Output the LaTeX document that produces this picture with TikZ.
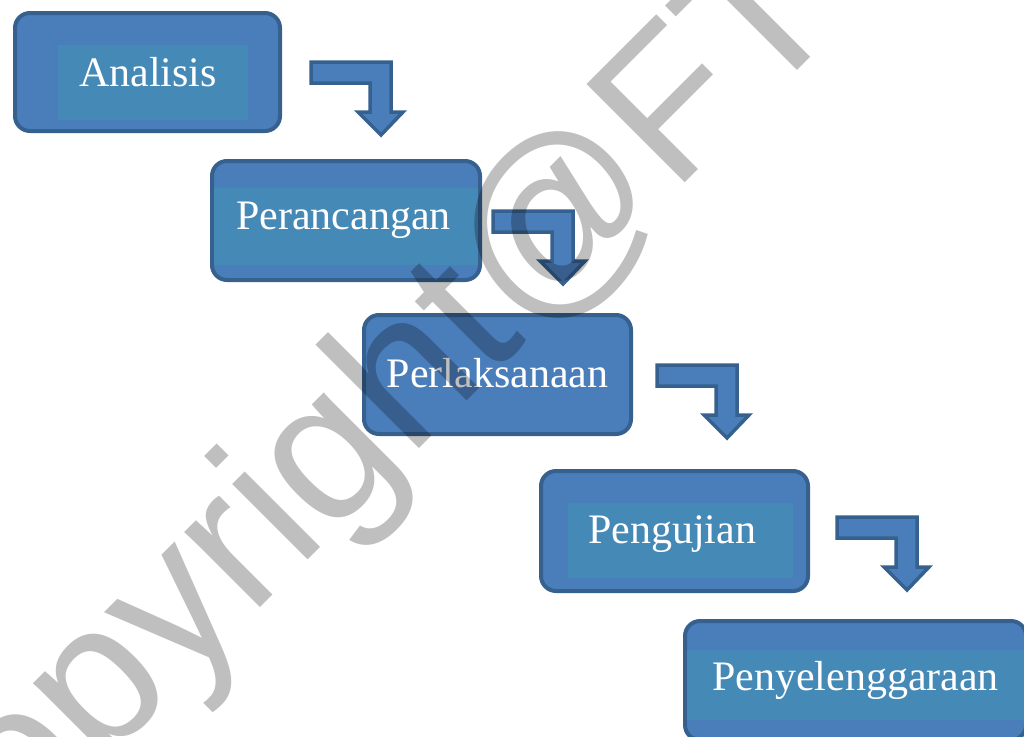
\documentclass[tikz,border=0pt]{standalone}
\usepackage{fontspec}
\setmainfont{Liberation Serif}
\newfontfamily\wmfont{Liberation Sans}
\usetikzlibrary{calc}
\definecolor{boxfill}{HTML}{4A7EBB}
\definecolor{boxband}{HTML}{4589B6}
\definecolor{boxline}{HTML}{36618F}
\tikzset{
  stage/.style={draw=boxline, fill=boxfill, line width=4pt, rounded corners=15pt, inner sep=0pt, outer sep=0pt},
  band/.style={fill=boxband},
  lbl/.style={text=white, anchor=base, inner sep=0pt, font=\fontsize{42}{50}\selectfont},
  bentarrow/.style={draw=boxline, fill=boxfill, line width=3.5pt, line join=miter},
  wm/.style={text=black, text opacity=0.25, font=\wmfont\fontsize{202}{240}\selectfont, anchor=base west, rotate=45, inner sep=0pt}
}
\newcommand\bentarr[1]{%
  \path[bentarrow] (#1) -- ++(80,0) -- ++(0,50) -- ++(12,0) -- ++(-22,23) -- ++(-23,-23) -- ++(12,0) -- ++(0,-29) -- ++(-59,0) -- cycle;}
\begin{document}
\begin{tikzpicture}[x=1pt,y=-1pt]
\useasboundingbox (0,0) rectangle (1024,736);
\begin{scope}
\clip (0,0) rectangle (1024,736);
% stages
\node[stage, minimum width=265pt, minimum height=118pt] (b1) at (147.5,72) {};
\node[stage, minimum width=268pt, minimum height=119pt] (b2) at (346,220.5) {};
\node[stage, minimum width=267pt, minimum height=119pt] (b3) at (497.5,374.5) {};
\node[stage, minimum width=267pt, minimum height=120pt] (b4) at (674.5,531) {};
\node[stage, minimum width=341pt, minimum height=119pt] (b5) at (855.5,680.5) {};
% inner bands
\fill[band] (58,45) rectangle (248,120);
\fill[band] (214,188) rectangle (478,265);
\fill[band] (568,503) rectangle (793,578);
\fill[band] (687,650) rectangle (1024,720);
% labels
\node[lbl] (l1) at (148,86) {Analisis};
\node[lbl] (l2) at (343.5,229) {Perancangan};
\node[lbl] (l3) at (497.5,387) {Perlaksanaan};
\node[lbl] (l4) at (672,543) {Pengujian};
\node[lbl] (l5) at (855.5,690) {Penyelenggaraan};
% bent arrows
\coordinate (a1) at ($(b1.east)+(31,-10)$);
\coordinate (a2) at ($(b2.east)+(13,-9.5)$);
\coordinate (a3) at ($(b3.east)+(26,-9.5)$);
\coordinate (a4) at ($(b4.east)+(29,-14)$);
\bentarr{a1}
\bentarr{a2}
\bentarr{a3}
\bentarr{a4}
% watermark
\node[wm] (wm) at (-83,951) {Copyright@FT};
\end{scope}
\end{tikzpicture}
\end{document}
